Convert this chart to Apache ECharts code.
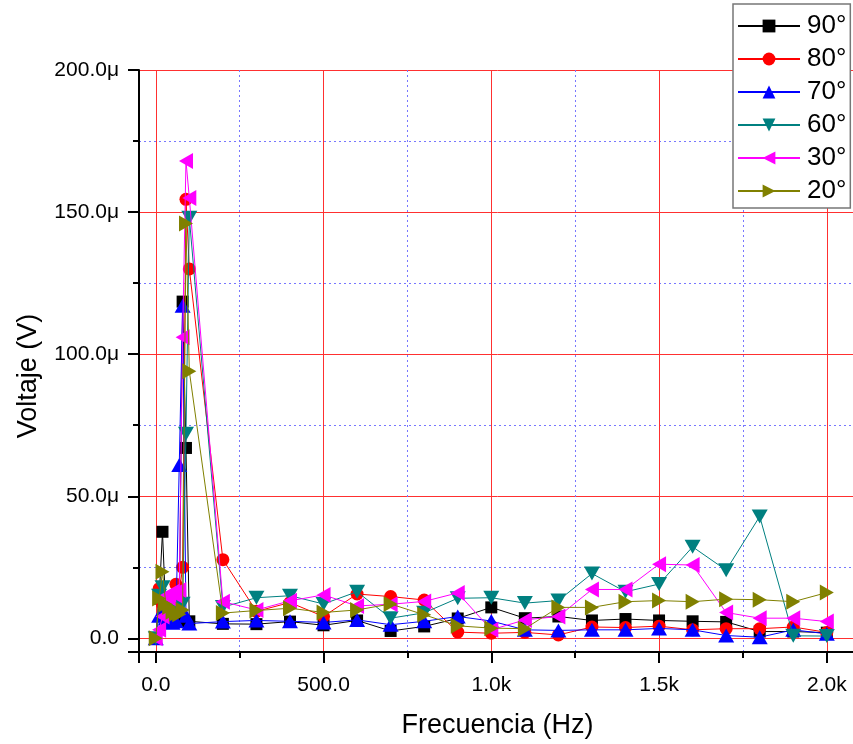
<!DOCTYPE html>
<html>
<head>
<meta charset="utf-8">
<script src="https://cdn.jsdelivr.net/npm/echarts/dist/echarts.min.js"></script>
<style>
html,body{margin:0;padding:0;background:#fff;overflow:hidden;}
#chart{width:870px;height:744px;}
</style>
</head>
<body>
<div id="chart"></div>
<script>
// Frequencies (Hz)
const freqHz = [0,10,20,30,40,50,60,70,80,90,100,200,300,400,500,600,700,800,900,1000,1100,1200,1300,1400,1500,1600,1700,1800,1900,2000];
// Voltages in microvolts
const v90 = [0,14,37.5,9,7,6,6,6,118.5,67,6,5.1,5,5.9,4.6,6.3,2.6,4.2,7,10.9,7.1,7.7,6.3,6.8,6.3,6,5.8,2.4,2.4,2];
const v80 = [0,17.5,12,10,9,10,19,16,25,154.5,130,27.7,9.5,12.6,7.7,15.6,14.7,13.5,2.2,1.8,2.1,1.2,4,3.8,4.3,3,3.4,3.4,4,2.1];
const v70 = [0,8,9,7,6,5.5,6,61,117,8,5.2,5.9,6.3,6,5.6,6.5,4.8,6,7.7,6.1,3,2.8,3,3,3.5,3,1,0.4,3,1.6];
const v60 = [0,15,18,12,10,9,10,12,12.2,72,148,11,14.3,15,12.1,16.4,7.1,9,14.1,14.3,12.4,13.3,22.8,16.4,19.1,32.2,24,42.9,0.9,0.8];
const v30 = [0,3,7.7,15,14,16.4,15,17,106,168,155,12.9,10,13.2,15.3,11.4,12,13,16,3,6.5,7.7,17.2,17.2,26.1,25.8,9.1,7.1,7.1,5.9];
const v20 = [0,14,23.4,12,11,9.4,8.7,8.5,10,146,94,8.9,9.8,10.6,9.1,10,12.1,8.3,4.4,3.6,3.4,10.9,10.9,12.9,13.3,12.9,13.8,13.6,12.9,16.1];
const seriesNames = ['90°','80°','70°','60°','30°','20°'];

const seriesVals = [v90, v80, v70, v60, v30, v20];
const colors = ['#000000','#ff0000','#0000ff','#008080','#ff00ff','#808000'];
const symbols = ['rect','circle','path://M5,0L10,9L0,9Z','path://M0,0L10,0L5,9Z','path://M0,5L9,0L9,10Z','path://M0,0L9,5L0,10Z'];
const sizes = [12,13,[16,14],[16,14],[14,16],[14,16]];

const chart = echarts.init(document.getElementById('chart'), null, {renderer:'canvas'});
const font = '"Liberation Sans", Arial, sans-serif';

const series = seriesNames.map((n,i)=>({
  name:n, type:'line',
  data: freqHz.map((f,j)=>[f, seriesVals[i][j]]),
  symbol: symbols[i], symbolSize: sizes[i], showAllSymbol:true,
  itemStyle:{color:colors[i]},
  lineStyle:{color:colors[i], width:1},
  emphasis:{disabled:true},
  animation:false,
  z: 2+i
}));

chart.setOption({
  backgroundColor:'#fff',
  animation:false,
  grid:{left:139, right:14, top:70, bottom:87, containLabel:false},
  legend:{
    orient:'vertical', left:733, top:4,
    padding:[9,4,4,4],
    itemWidth:62, itemHeight:16, itemGap:7,
    backgroundColor:'#fff', borderColor:'#777', borderWidth:1.5,
    textStyle:{fontSize:26, color:'#000', fontFamily:font, padding:[0,0,0,2]},
    data: seriesNames
  },
  xAxis:{
    type:'value', min:-50, max:2087, minInterval:500, maxInterval:500,
    name:'Frecuencia (Hz)', nameLocation:'middle', nameGap:60,
    nameTextStyle:{fontSize:27, color:'#000', fontFamily:font, padding:[0,0,0,0]},
    axisLine:{show:true, onZero:false, lineStyle:{color:'#000', width:2}},
    axisTick:{show:true, inside:false, length:11, lineStyle:{color:'#000', width:2}},
    minorTick:{show:true, splitNumber:2, length:6, lineStyle:{color:'#000', width:2}},
    axisLabel:{fontSize:21, color:'#000', fontFamily:font, margin:23, showMinLabel:false, showMaxLabel:false,
      formatter:v=> v<1000 ? v.toFixed(1) : (v/1000).toFixed(1)+'k'},
    splitLine:{show:true, lineStyle:{color:'#ff3030', width:1}},
    minorSplitLine:{show:true, lineStyle:{color:'#7777ff', width:1, type:[2,3]}}
  },
  yAxis:{
    type:'value', min:-4.8, max:200, minInterval:50, maxInterval:50,
    name:'Voltaje (V)', nameLocation:'middle', nameGap:97,
    nameTextStyle:{fontSize:27, color:'#000', fontFamily:font, padding:[0,30,0,0]},
    axisLine:{show:true, onZero:false, lineStyle:{color:'#000', width:2}},
    axisTick:{show:true, inside:false, length:11, lineStyle:{color:'#000', width:2}},
    minorTick:{show:true, splitNumber:2, length:6, lineStyle:{color:'#000', width:2}},
    axisLabel:{fontSize:21, color:'#000', fontFamily:font, margin:20, showMinLabel:false, showMaxLabel:true,
      formatter:v=> v===0 ? '0.0' : v.toFixed(1)+'μ'},
    splitLine:{show:true, lineStyle:{color:'#ff3030', width:1}},
    minorSplitLine:{show:true, lineStyle:{color:'#7777ff', width:1, type:[2,3]}}
  },
  series: series
});
</script>
</body>
</html>
